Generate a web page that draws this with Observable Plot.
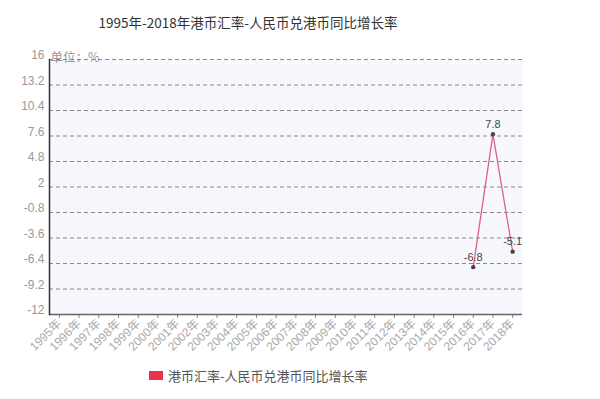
<!DOCTYPE html>
<html>
<head>
<meta charset="utf-8">
<script src="https://cdn.jsdelivr.net/npm/d3@7"></script>
<script src="https://cdn.jsdelivr.net/npm/@observablehq/plot@0.6"></script>
<style>
  html, body { margin: 0; padding: 0; background: #fff; }
  #wrap { position: relative; width: 600px; height: 399px; overflow: hidden; font-family: "Liberation Sans", "Noto Sans CJK SC", sans-serif; }
  #title { position: absolute; left: 48px; top: 12px; width: 400px; text-align: center; font-size: 13.5px; color: #333; font-family: "Noto Sans CJK SC", sans-serif; }
  #legend { position: absolute; left: 149px; top: 366px; font-size: 13px; color: #555; display: flex; align-items: center; font-family: "Noto Sans CJK SC", sans-serif; }
  #legend .sw { width: 14px; height: 9px; background: #e8334f; margin-right: 5px; }
  #chart { position: absolute; left: 0; top: 0; }
</style>
</head>
<body>
<div id="wrap">
  <div id="chart"></div>
  <div id="title">1995年-2018年港币汇率-人民币兑港币同比增长率</div>
  <div id="legend"><div class="sw"></div><span>港币汇率-人民币兑港币同比增长率</span></div>
</div>
<script>
const years = ["1995年","1996年","1997年","1998年","1999年","2000年","2001年","2002年","2003年","2004年","2005年","2006年","2007年","2008年","2009年","2010年","2011年","2012年","2013年","2014年","2015年","2016年","2017年","2018年"];
const values = [null,null,null,null,null,null,null,null,null,null,null,null,null,null,null,null,null,null,null,null,null,-6.8,7.8,-5.1];
const yTicks = [16, 13.2, 10.4, 7.6, 4.8, 2, -0.8, -3.6, -6.4, -9.2, -12];
const seriesName = "港币汇率-人民币兑港币同比增长率";
const unitLabel = "单位：%";

const data = years.map((y, i) => ({year: y, value: values[i]}));
const pts = data.filter(d => d.value != null);

const chart = Plot.plot({
  width: 600,
  height: 399,
  marginTop: 59,
  marginBottom: 85,
  marginLeft: 49,
  marginRight: 78,
  style: {background: "transparent", fontFamily: "Liberation Sans, Noto Sans CJK SC, sans-serif"},
  x: {type: "point", domain: years, padding: 0.5, round: false, label: null},
  y: {domain: [-12, 16], label: null},
  marks: [
    Plot.frame({fill: "#f7f8fd", stroke: null}),
    Plot.ruleY(yTicks.filter(t => t !== -12), {stroke: "#888", strokeDasharray: "4,3", strokeWidth: 1}),
    Plot.axisY({ticks: yTicks, tickFormat: d => String(d), tickSize: 0, tickPadding: 5, dy: -4, fontSize: 12, fill: "#999", label: null}),
    Plot.axisX({tickRotate: -45, tickSize: 4, tickPadding: 3, fontSize: 12, fill: "#aaa", stroke: "#888", label: null}),
    Plot.ruleY([-12], {stroke: "#666", strokeWidth: 1.5}),
    Plot.frame({anchor: "left", stroke: "#333", strokeWidth: 1.5}),
    Plot.line(data, {x: "year", y: "value", stroke: "#e0607e", strokeWidth: 1.3}),
    Plot.dot(pts, {x: "year", y: "value", r: 2.2, fill: "#444", stroke: null}),
    Plot.text(pts, {x: "year", y: "value", text: d => String(d.value), dy: -10, fontSize: 11, fill: "#444"}),
    Plot.text([unitLabel], {frameAnchor: "top-left", dx: 1, dy: -6, fontSize: 12.5, fill: "#999", textAnchor: "start", fontFamily: "Noto Sans CJK SC"})
  ]
});
document.getElementById("chart").appendChild(chart);
</script>
</body>
</html>
